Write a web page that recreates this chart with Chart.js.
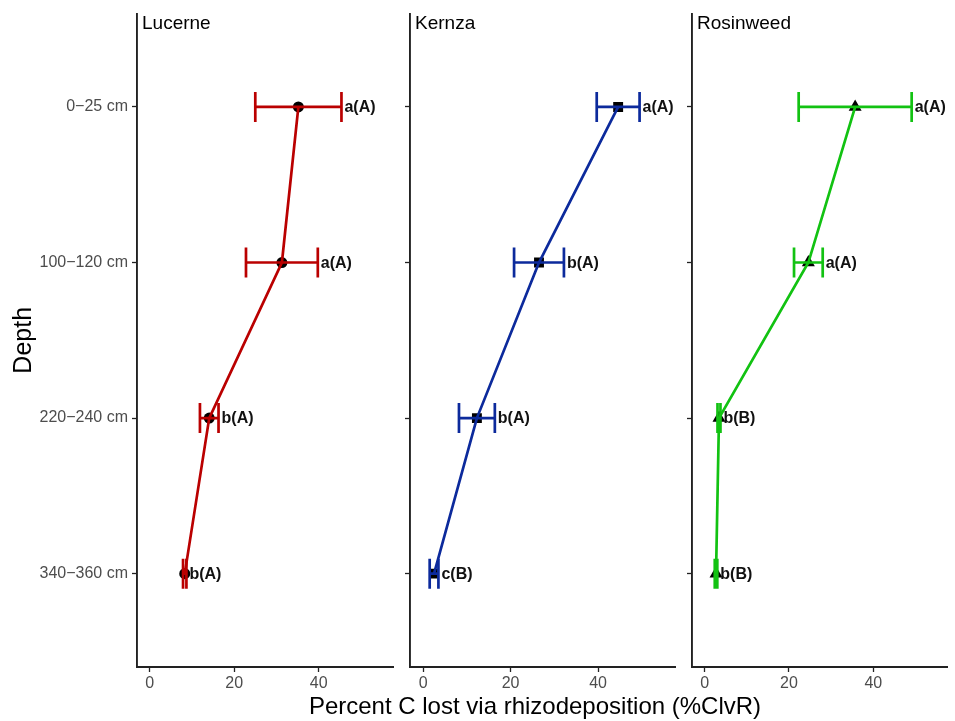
<!DOCTYPE html>
<html>
<head>
<meta charset="utf-8">
<script src="https://cdn.jsdelivr.net/npm/chart.js@4.4.1/dist/chart.umd.min.js"></script>
<style>
  body { margin: 0; background: #fff; font-family: "Liberation Sans", Arial, sans-serif; }
  #wrap { position: relative; width: 955px; height: 721px; overflow: hidden; }
  .panel { position: absolute; top: 0; height: 721px; }
  #xtitle { position: absolute; left: 235px; width: 600px; top: 692px; text-align: center;
            font-size: 24px; line-height: 28px; color: #000; }
</style>
</head>
<body>
<div id="wrap">
  <div class="panel" style="left:0;width:400px"><canvas id="p1"></canvas></div>
  <div class="panel" style="left:400px;width:282px"><canvas id="p2"></canvas></div>
  <div class="panel" style="left:682px;width:273px"><canvas id="p3"></canvas></div>
  <div id="xtitle">Percent C lost via rhizodeposition (%ClvR)</div>
</div>
<script>
// depth classes (y categories, top to bottom)
const depths = ['0\u221225 cm', '100\u2212120 cm', '220\u2212240 cm', '340\u2212360 cm'];
const xTicks = [0, 20, 40];

// mean %ClvR and standard error per depth
const lucerneMean = [35.2, 31.3, 14.1, 8.3];
const lucerneSE   = [10.2, 8.5, 2.2, 0.4];
const kernzaMean  = [44.6, 26.5, 12.3, 2.5];
const kernzaSE    = [4.9, 5.7, 4.1, 1.0];
const rosinMean   = [35.7, 24.6, 3.4, 2.7];
const rosinSE     = [13.4, 3.4, 0.35, 0.3];

// significance letters
const lucerneLetters = ['a(A)', 'a(A)', 'b(A)', 'b(A)'];
const kernzaLetters  = ['a(A)', 'b(A)', 'b(A)', 'c(B)'];
const rosinLetters   = ['a(A)', 'a(A)', 'b(B)', 'b(B)'];

const FONT = '"Liberation Sans", Arial, sans-serif';
const AXIS = '#222';

// error bars, letters and facet title
const panelExtras = {
  id: 'panelExtras',
  afterDatasetsDraw(chart, args, opts) {
    const { ctx, scales: { x, y }, chartArea } = chart;
    ctx.save();
    opts.mean.forEach((m, i) => {
      const lo = x.getPixelForValue(m - opts.se[i]);
      const hi = x.getPixelForValue(m + opts.se[i]);
      const py = y.getPixelForValue(i);
      ctx.strokeStyle = opts.color;
      ctx.lineWidth = 2.7;
      ctx.beginPath();
      ctx.moveTo(lo, py); ctx.lineTo(hi, py);
      ctx.moveTo(lo, py - 15); ctx.lineTo(lo, py + 15);
      ctx.moveTo(hi, py - 15); ctx.lineTo(hi, py + 15);
      ctx.stroke();
      ctx.fillStyle = '#111';
      ctx.font = 'bold 16px ' + FONT;
      ctx.textAlign = 'left';
      ctx.textBaseline = 'middle';
      ctx.fillText(opts.letters[i], hi + 3, py + 1);
    });
    ctx.fillStyle = '#000';
    ctx.font = '19px ' + FONT;
    ctx.textAlign = 'left';
    ctx.textBaseline = 'middle';
    ctx.fillText(opts.title, chartArea.left + 5, 24);
    ctx.restore();
  }
};

function makePanel(id, title, mean, se, letters, color, pointStyle, radius, yWidth, padRight, showLabels) {
  const pts = mean.map((v, i) => ({ x: v, y: i }));
  const canvas = document.getElementById(id);
  const w = canvas.parentNode.offsetWidth;
  canvas.width = w; canvas.height = 721;
  canvas.style.width = w + 'px'; canvas.style.height = '721px';
  return new Chart(canvas, {
    type: 'scatter',
    data: {
      datasets: [
        { data: pts, pointStyle: pointStyle, pointRadius: radius, pointHoverRadius: radius,
          backgroundColor: '#000', borderColor: '#000', borderWidth: 0, order: 2 },
        { data: pts, showLine: true, borderColor: color, borderWidth: 2.7,
          pointRadius: 0, pointHoverRadius: 0, order: 1 }
      ]
    },
    options: {
      responsive: false,
      animation: false,
      layout: { padding: { top: 8, right: padRight, left: 0, bottom: 0 } },
      plugins: {
        legend: { display: false },
        tooltip: { enabled: false },
        panelExtras: { mean: mean, se: se, letters: letters, color: color, title: title }
      },
      scales: {
        x: {
          type: 'linear', min: -3, max: 57.6,
          afterBuildTicks: s => { s.ticks = xTicks.map(v => ({ value: v })); },
          afterFit: s => { s.height = 54; },
          grid: { drawOnChartArea: false, drawTicks: true, tickLength: 5, color: AXIS, tickWidth: 1.3 },
          border: { display: true, color: AXIS, width: 1.9 },
          ticks: { color: '#4d4d4d', font: { family: FONT, size: 16 }, padding: 2, maxRotation: 0 }
        },
        y: {
          type: 'linear', min: -0.6, max: 3.6, reverse: true,
          afterBuildTicks: s => { s.ticks = depths.map((d, i) => ({ value: i })); },
          afterFit: s => { s.width = yWidth; },
          grid: { drawOnChartArea: false, drawTicks: true, tickLength: 5, color: AXIS, tickWidth: 1.3 },
          border: { display: true, color: AXIS, width: 1.9 },
          ticks: {
            color: '#4d4d4d', font: { family: FONT, size: 16 }, padding: 4,
            callback: v => showLabels ? depths[v] : ''
          },
          title: { display: showLabels, text: 'Depth', color: '#000',
                   font: { family: FONT, size: 25 }, padding: { top: 9, bottom: 4 } }
        }
      }
    },
    plugins: [panelExtras]
  });
}

makePanel('p1', 'Lucerne', lucerneMean, lucerneSE, lucerneLetters, '#BA0000', 'circle', 5.5, 137, 7, true);
makePanel('p2', 'Kernza', kernzaMean, kernzaSE, kernzaLetters, '#0C2A9C', 'rect', 7, 10, 5, false);
makePanel('p3', 'Rosinweed', rosinMean, rosinSE, rosinLetters, '#12C212', 'triangle', 7.5, 10, 2, false);
</script>
</body>
</html>
